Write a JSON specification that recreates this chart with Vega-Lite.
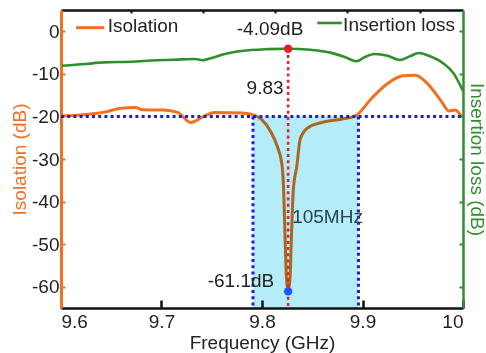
{
  "$schema": "https://vega.github.io/schema/vega-lite/v6.json",
  "width": 402,
  "height": 298,
  "autosize": {"type": "none"},
  "padding": {"left": 61, "top": 10, "right": 23, "bottom": 45},
  "background": "white",
  "config": {
    "view": {"stroke": null},
    "font": "Liberation Sans",
    "axis": {"grid": false, "labelFont": "Liberation Sans", "titleFont": "Liberation Sans", "labelFontSize": 19, "titleFontSize": 19, "titleFontWeight": "normal", "labelColor": "#222", "titleColor": "#222"}
  },
  "datasets": {
    "il": [
      {"f": 9.601, "db": -8.1}, {"f": 9.624, "db": -7.7}, {"f": 9.642, "db": -7.3}, {"f": 9.670, "db": -7.15},
      {"f": 9.695, "db": -6.8}, {"f": 9.712, "db": -6.7}, {"f": 9.733, "db": -6.5}, {"f": 9.741, "db": -6.8},
      {"f": 9.749, "db": -6.35}, {"f": 9.763, "db": -5.35}, {"f": 9.777, "db": -4.7}, {"f": 9.789, "db": -4.4},
      {"f": 9.805, "db": -4.2}, {"f": 9.826, "db": -4.09}, {"f": 9.848, "db": -4.35}, {"f": 9.867, "db": -4.95},
      {"f": 9.883, "db": -6.1}, {"f": 9.894, "db": -7.05}, {"f": 9.902, "db": -6.1}, {"f": 9.912, "db": -5.35},
      {"f": 9.925, "db": -5.75}, {"f": 9.937, "db": -6.75}, {"f": 9.947, "db": -5.9}, {"f": 9.956, "db": -5.1},
      {"f": 9.966, "db": -5.75}, {"f": 9.979, "db": -7.3}, {"f": 9.991, "db": -10.0}, {"f": 10.0, "db": -14.0}
    ],
    "iso": [
      {"f": 9.601, "db": -19.9}, {"f": 9.642, "db": -19.05}, {"f": 9.660, "db": -18.1}, {"f": 9.674, "db": -17.9},
      {"f": 9.681, "db": -18.45}, {"f": 9.702, "db": -18.5}, {"f": 9.716, "db": -19.05}, {"f": 9.729, "db": -21.4},
      {"f": 9.743, "db": -19.85}, {"f": 9.753, "db": -19.05}, {"f": 9.780, "db": -19.2}, {"f": 9.789, "db": -19.45},
      {"f": 9.799, "db": -20.6}, {"f": 9.809, "db": -23.7}, {"f": 9.815, "db": -26.9}, {"f": 9.820, "db": -31.6},
      {"f": 9.8215, "db": -37.1}, {"f": 9.823, "db": -48.9}, {"f": 9.8244, "db": -58.3}, {"f": 9.826, "db": -61.1},
      {"f": 9.8278, "db": -58.3}, {"f": 9.8292, "db": -48.9}, {"f": 9.8312, "db": -37.1}, {"f": 9.8347, "db": -31.6},
      {"f": 9.838, "db": -25.3}, {"f": 9.846, "db": -22.6}, {"f": 9.860, "db": -21.4}, {"f": 9.880, "db": -20.6},
      {"f": 9.893, "db": -19.85}, {"f": 9.9085, "db": -15.9}, {"f": 9.9243, "db": -12.4}, {"f": 9.940, "db": -10.45},
      {"f": 9.9526, "db": -10.3}, {"f": 9.9652, "db": -12.4}, {"f": 9.978, "db": -16.3}, {"f": 9.986, "db": -18.7},
      {"f": 9.992, "db": -18.5}, {"f": 9.998, "db": -19.85}
    ]
  },
  "layer": [
    {
      "data": {"name": "il"},
      "mark": {"type": "line", "color": "#2f8f2f", "strokeWidth": 2.6, "interpolate": "monotone"},
      "encoding": {
        "x": {"field": "f", "type": "quantitative", "scale": {"domain": [9.6, 10], "nice": false, "zero": false},
          "axis": {"orient": "top", "ticks": false, "labels": false, "title": null,
            "domainColor": "#111", "domainWidth": 2.5}},
        "y": {"field": "db", "type": "quantitative", "scale": {"domain": [-65, 5], "nice": false, "zero": false},
          "axis": {"orient": "right", "ticks": false, "labels": false,
            "title": "Insertion loss (dB)", "titleColor": "#2f8f2f", "titlePadding": 3,
            "domainColor": "#2f8f2f", "domainWidth": 2.5}}
      }
    },
    {
      "data": {"name": "iso"},
      "mark": {"type": "line", "color": "#f36f21", "strokeWidth": 3, "interpolate": "monotone"},
      "encoding": {
        "x": {"field": "f", "type": "quantitative",
          "axis": {"orient": "bottom", "values": [9.6, 9.7, 9.8, 9.9, 10], "format": "~g", "labelFlush": true,
            "title": "Frequency (GHz)", "titlePadding": 2, "ticks": false, "labelPadding": 4,
            "domainColor": "#111", "domainWidth": 2.5}},
        "y": {"field": "db", "type": "quantitative",
          "axis": {"orient": "left", "values": [0, -10, -20, -30, -40, -50, -60], "labelExpr": "datum.value + ''",
            "title": "Isolation (dB)", "titleColor": "#f36f21", "titlePadding": 2, "ticks": false, "labelPadding": 2,
            "domainColor": "#f36f21", "domainWidth": 3}}
      }
    },
    {
      "data": {"values": [{"x1": 9.791, "x2": 9.896, "y1": -20, "y2": -65}]},
      "mark": {"type": "rect", "color": "#b4ecf8", "opacity": 1, "blend": "multiply"},
      "encoding": {
        "x": {"field": "x1", "type": "quantitative", "axis": null}, "x2": {"field": "x2"},
        "y": {"field": "y1", "type": "quantitative", "axis": null}, "y2": {"field": "y2"}
      }
    },
    {
      "data": {"values": [
        {"x1": 9.6, "x2": 10, "y1": -20, "y2": -20},
        {"x1": 9.791, "x2": 9.791, "y1": -20, "y2": -65},
        {"x1": 9.896, "x2": 9.896, "y1": -20, "y2": -65}
      ]},
      "mark": {"type": "rule", "color": "#1c1ce6", "strokeWidth": 3, "strokeDash": [3, 3.2]},
      "encoding": {
        "x": {"field": "x1", "type": "quantitative", "axis": null}, "x2": {"field": "x2"},
        "y": {"field": "y1", "type": "quantitative", "axis": null}, "y2": {"field": "y2"}
      }
    },
    {
      "data": {"values": [{"x1": 9.826, "y1": -4.09, "y2": -65}]},
      "mark": {"type": "rule", "color": "#e8212b", "strokeWidth": 2.6, "strokeDash": [3, 3.2]},
      "encoding": {
        "x": {"field": "x1", "type": "quantitative", "axis": null},
        "y": {"field": "y1", "type": "quantitative", "axis": null}, "y2": {"field": "y2"}
      }
    },
    {
      "data": {"values": [{"f": 9.826, "db": -4.09, "name": "max"}, {"f": 9.826, "db": -61.1, "name": "min"}]},
      "mark": {"type": "point", "filled": true, "opacity": 1, "size": 70},
      "encoding": {
        "x": {"field": "f", "type": "quantitative", "axis": null},
        "y": {"field": "db", "type": "quantitative", "axis": null},
        "color": {"field": "name", "type": "nominal", "scale": {"domain": ["max", "min"], "range": ["#ee1c25", "#1a55ff"]}, "legend": null}
      }
    },
    {
      "data": {"values": [
        {"f": 9.808, "db": 0.54, "t": "-4.09dB"}
      ]},
      "mark": {"type": "text", "align": "center", "baseline": "middle", "fontSize": 19, "color": "#222"},
      "encoding": {
        "x": {"field": "f", "type": "quantitative",
          "axis": {"orient": "bottom", "offset": -8, "values": [9.6, 9.7, 9.8, 9.9, 10], "tickSize": 8, "tickWidth": 2.5, "tickColor": "#111",
            "domain": false, "labels": false, "title": null}},
        "y": {"field": "db", "type": "quantitative",
          "axis": {"orient": "left", "offset": -4, "values": [0, -10, -20, -30, -40, -50, -60], "tickSize": 4, "tickWidth": 2, "tickColor": "#f36f21",
            "domain": false, "labels": false, "title": null}},
        "text": {"field": "t"}
      }
    },
    {
      "data": {"values": [
        {"f": 9.8215, "db": -13.4, "t": "9.83"}
      ]},
      "mark": {"type": "text", "align": "right", "baseline": "middle", "fontSize": 19, "color": "#222"},
      "encoding": {
        "x": {"field": "f", "type": "quantitative",
          "axis": {"orient": "top", "offset": -3, "values": [9.6694, 9.741, 9.8129, 9.8849, 9.9572], "tickSize": 3, "tickWidth": 2, "tickColor": "#111",
            "domain": false, "labels": false, "title": null}},
        "y": {"field": "db", "type": "quantitative",
          "axis": {"orient": "right", "offset": -4, "values": [0, -10, -20, -30, -40, -50, -60], "tickSize": 4, "tickWidth": 2, "tickColor": "#2f8f2f",
            "domain": false, "labels": false, "title": null}},
        "text": {"field": "t"}
      }
    },
    {
      "data": {"values": [
        {"f": 9.746, "db": -58.75, "t": "-61.1dB"}
      ]},
      "mark": {"type": "text", "align": "left", "baseline": "middle", "fontSize": 19, "color": "#222"},
      "encoding": {
        "x": {"field": "f", "type": "quantitative", "axis": null},
        "y": {"field": "db", "type": "quantitative", "axis": null},
        "text": {"field": "t"}
      }
    },
    {
      "data": {"values": [
        {"f": 9.830, "db": -43.7, "t": "105MHz"}
      ]},
      "mark": {"type": "text", "align": "left", "baseline": "middle", "fontSize": 19, "color": "#26454d"},
      "encoding": {
        "x": {"field": "f", "type": "quantitative", "axis": null},
        "y": {"field": "db", "type": "quantitative", "axis": null},
        "text": {"field": "t"}
      }
    },
    {
      "data": {"values": [{"x1": 9.615, "x2": 9.643, "y1": 0.85}]},
      "mark": {"type": "rule", "color": "#f36f21", "strokeWidth": 3},
      "encoding": {
        "x": {"field": "x1", "type": "quantitative", "axis": null}, "x2": {"field": "x2"},
        "y": {"field": "y1", "type": "quantitative", "axis": null}
      }
    },
    {
      "data": {"values": [{"x1": 9.855, "x2": 9.8794, "y1": 1.95}]},
      "mark": {"type": "rule", "color": "#2f8f2f", "strokeWidth": 2.6},
      "encoding": {
        "x": {"field": "x1", "type": "quantitative", "axis": null}, "x2": {"field": "x2"},
        "y": {"field": "y1", "type": "quantitative", "axis": null}
      }
    },
    {
      "data": {"values": [
        {"f": 9.6464, "db": 1.13, "t": "Isolation"},
        {"f": 9.8807, "db": 1.55, "t": "Insertion loss"}
      ]},
      "mark": {"type": "text", "align": "left", "baseline": "middle", "fontSize": 19, "color": "#222"},
      "encoding": {
        "x": {"field": "f", "type": "quantitative", "axis": null},
        "y": {"field": "db", "type": "quantitative", "axis": null},
        "text": {"field": "t"}
      }
    }
  ],
  "resolve": {"axis": {"x": "independent", "y": "independent"}}
}
